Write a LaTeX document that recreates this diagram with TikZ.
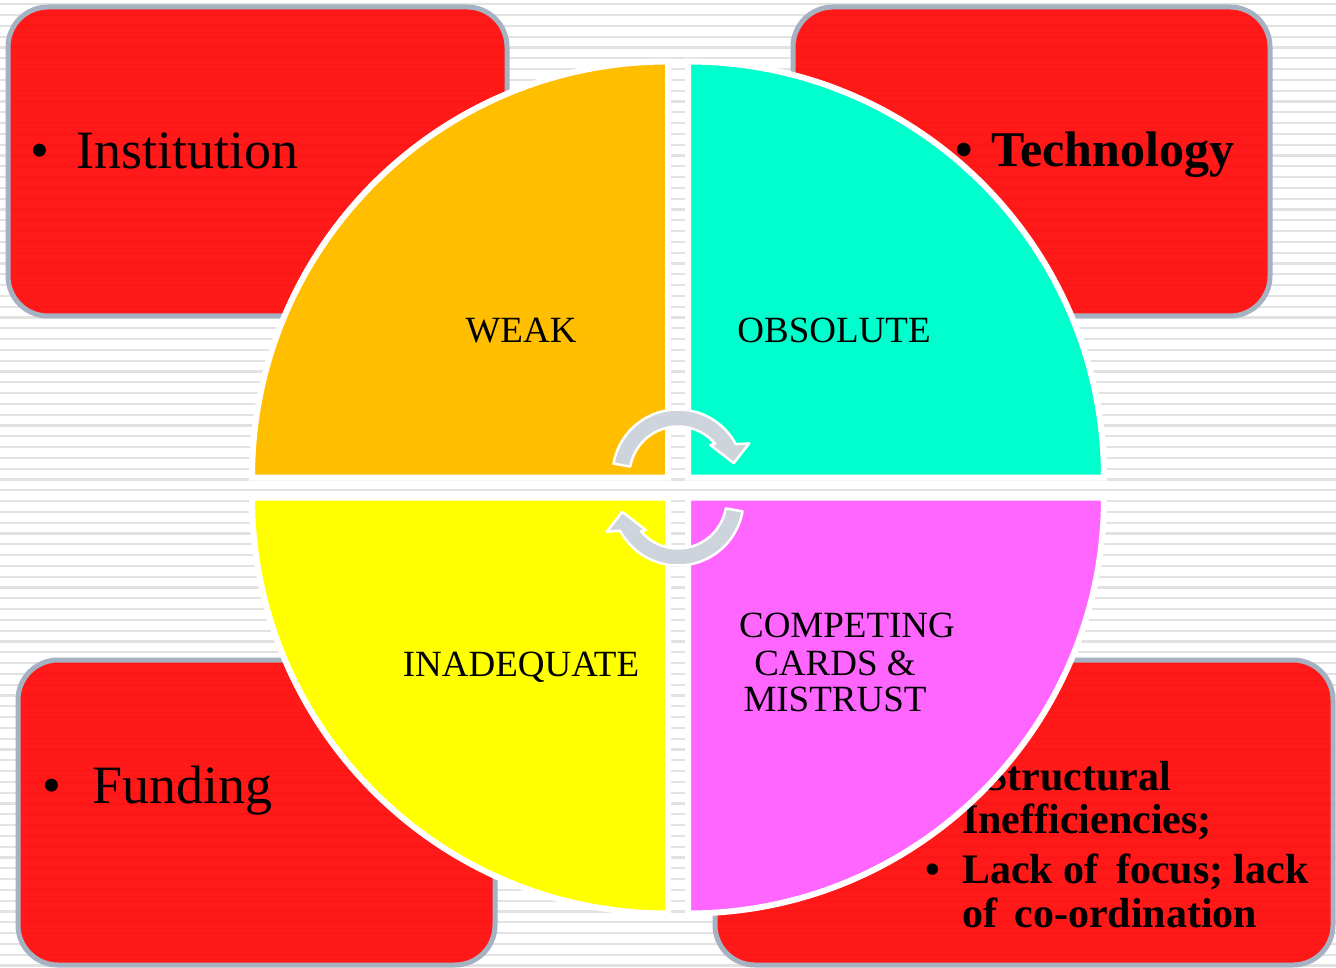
\documentclass[tikz,border=0pt]{standalone}
\usepackage{fontspec}
\setmainfont{Liberation Serif}
\usepackage{xcolor}
\usepackage{tikz}

\definecolor{boxred}{HTML}{FF0000}
\definecolor{boxrim}{HTML}{A5B2C2}
\definecolor{weakorange}{HTML}{FFBF00}
\definecolor{obsaqua}{HTML}{00FFCC}
\definecolor{inadyellow}{HTML}{FFFF00}
\definecolor{comppink}{HTML}{FF66FF}
\definecolor{stripegray}{HTML}{E2E2E2}
\definecolor{arrowgray}{HTML}{CED4DC}

\tikzset{
  stripe/.style={draw=stripegray, line width=2.2pt},
  issuebox/.style={draw=boxrim, line width=5pt, fill=boxred, fill opacity=0.9, rounded corners=40pt},
  quarter/.style={draw=white, line width=6pt},
  issuetext/.style={anchor=base west, inner sep=0pt, font=\fontsize{54}{60}\selectfont},
  boldtext/.style={anchor=base west, inner sep=0pt, font=\fontsize{42}{45}\selectfont\bfseries},
  quartertext/.style={anchor=base, inner sep=0pt, font=\fontsize{37}{37}\selectfont}
}

% one curved turn arrow, centred on the origin
\newcommand{\turnarrow}{%
  \filldraw[fill=arrowgray, draw=white, line width=2.5pt, line join=round]
    (170:65.5) arc[start angle=170, end angle=28, radius=65.5]
    -- (24:78) -- (12:57) -- (43:44) -- (40:48.5)
    arc[start angle=40, end angle=170, radius=48.5] -- cycle;}

\begin{document}
\begin{tikzpicture}[x=1pt, y=1pt]
        \useasboundingbox (0,0) rectangle (1336,-968);
        \fill[white] (0,0) rectangle (1336,-968);
        \foreach \k in {0,...,89}
            \draw[stripe] (0,{-4.3-10.8*\k}) -- (1336,{-4.3-10.8*\k});

        % the four issue boxes
        \draw[issuebox] (8,-7) rectangle (507,-316);
        \draw[issuebox] (793,-7) rectangle (1270,-316);
        \draw[issuebox] (18,-660) rectangle (495,-965);
        \draw[issuebox] (715,-660) rectangle (1333,-965);

        \node[issuetext] (institution) at (30,-169) {\textbullet\hspace{27pt}Institution};
        \node[issuetext, font=\fontsize{50}{56}\selectfont\bfseries] (technology) at (955,-167) {\textbullet\hspace{19pt}Technology};
        \node[issuetext] (funding) at (42,-803) {\textbullet\hspace{31pt}Funding};
        \node[boldtext] (structural) at (947,-790) {\makebox[37pt][l]{\textbullet}Structural};
        \node[boldtext] (ineff) at (962,-833) {Inefficiencies;};
        \node[boldtext] (focus) at (925,-883) {\makebox[37pt][l]{\textbullet}Lack of\, focus; lack};
        \node[boldtext] (coord) at (962,-927) {of\, co-ordination};

        % the circle in four quarters
        \filldraw[quarter, fill=weakorange] (668,-477.5) -- (252,-477.5) arc[start angle=180, end angle=90, radius=416] -- cycle;
        \filldraw[quarter, fill=obsaqua] (688,-477.5) -- (1104,-477.5) arc[start angle=0, end angle=90, radius=416] -- cycle;
        \filldraw[quarter, fill=inadyellow] (668,-497.5) -- (252,-497.5) arc[start angle=180, end angle=270, radius=416] -- cycle;
        \filldraw[quarter, fill=comppink] (688,-497.5) -- (1104,-497.5) arc[start angle=0, end angle=-90, radius=416] -- cycle;

        \node[quartertext] (weak) at (521,-342) {WEAK};
        \node[quartertext] (obsolute) at (834,-342) {OBSOLUTE};
        \node[quartertext] (inadequate) at (521,-676) {INADEQUATE};
        \node[quartertext] (competing) at (847,-637) {COMPETING};
        \node[quartertext] (cards) at (835,-675) {CARDS \&};
        \node[quartertext] (mistrust) at (835,-711) {MISTRUST};

        % turn arrows in the middle
        \begin{scope}[shift={(678,-475)}]
            \turnarrow
        \end{scope}
        \begin{scope}[shift={(678,-500)}, rotate=180]
            \turnarrow
        \end{scope}
    \end{tikzpicture}
\end{document}
